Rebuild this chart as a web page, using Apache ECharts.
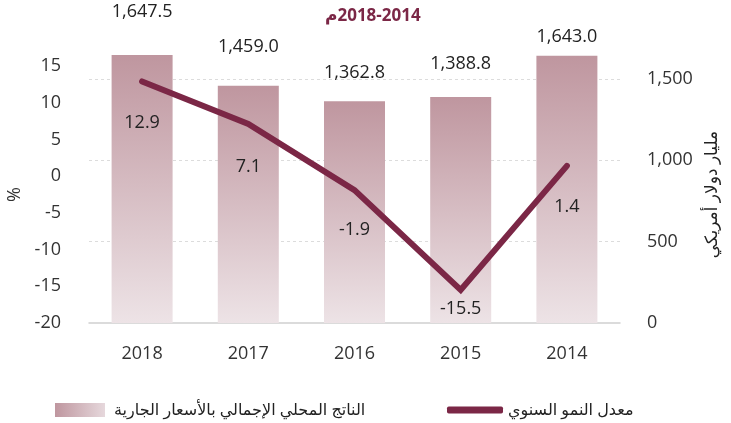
<!DOCTYPE html>
<html>
<head>
<meta charset="utf-8">
<script src="https://cdn.jsdelivr.net/npm/echarts@6/dist/echarts.min.js"></script>
<style>html,body{margin:0;padding:0;background:#fff}#c{width:731px;height:423px}</style>
</head>
<body>
<div id="c"></div>
<script>
const titleText = 'م\u200E2018-2014';
const categories = ['2018', '2017', '2016', '2015', '2014'];
const gdpValues = [1647.5, 1459.0, 1362.8, 1388.8, 1643.0];
const growthValues = [12.9, 7.1, -1.9, -15.5, 1.4];
const gdpName = 'الناتج المحلي الإجمالي بالأسعار الجارية';
const growthName = 'معدل النمو السنوي';
const leftAxisName = '%';
const rightAxisName = 'مليار دولار أمريكي';

// label placement (style only)
const barLabelDist = [34, 30, 19, 24, 10];
const lineLabelShift = [4, 2, 3, 1, 4];
const lineLabelDist = [28, 32, 28, 9, 28];

const FONT = '"Open Sans", "DejaVu Sans", sans-serif';
const MAROON = '#7b2746';

const chart = echarts.init(document.getElementById('c'));
chart.setOption({
  animation: false,
  title: {
    text: titleText, left: 320, top: 3,
    textStyle: { color: MAROON, fontSize: 17, fontWeight: 'bold', fontFamily: FONT }
  },
  legend: [
    {
      data: [{ name: gdpName, itemStyle: { color: new echarts.graphic.LinearGradient(0, 0, 1, 0, [{offset: 0, color: '#bf969f'}, {offset: 1, color: '#e6d8dc'}]) } }],
      left: 50, top: 397, itemWidth: 50, itemHeight: 14, icon: 'rect', itemGap: 10,
      textStyle: { fontSize: 16, color: '#222', fontFamily: FONT, padding: [0, 0, 0, 4] }
    },
    {
      data: [{ name: growthName, icon: 'roundRect' }],
      left: 442, top: 397, itemWidth: 56, itemHeight: 7,
      textStyle: { fontSize: 16, color: '#222', fontFamily: FONT }
    }
  ],
  grid: { left: 89, right: 111, top: 66, bottom: 100, containLabel: false, outerBoundsMode: 'none' },
  xAxis: {
    type: 'category', data: categories,
    axisLine: { onZero: false, lineStyle: { color: '#d0d0d0', width: 1.5 } },
    axisTick: { show: false },
    axisLabel: { fontSize: 18, color: '#333', margin: 22, fontFamily: FONT }
  },
  yAxis: [
    {
      type: 'value', min: -20, max: 15, interval: 5, position: 'left',
      name: leftAxisName, nameLocation: 'middle', nameRotate: 90, nameGap: 64,
      nameTextStyle: { fontSize: 18, color: '#333', fontFamily: FONT },
      axisLine: { show: false }, axisTick: { show: false }, splitLine: { show: false },
      axisLabel: { fontSize: 18, color: '#333', margin: 28, fontFamily: FONT }
    },
    {
      type: 'value', min: 0, max: 1580, interval: 500, position: 'right',
      name: rightAxisName, nameLocation: 'middle', nameRotate: 90, nameGap: 77,
      nameTextStyle: { fontSize: 17, color: '#222', fontFamily: FONT },
      axisLine: { show: false }, axisTick: { show: false },
      splitLine: { show: true, showMinLine: false, showMaxLine: false, lineStyle: { color: '#dcdcdc', type: [3, 3], width: 1 } },
      axisLabel: { fontSize: 18, color: '#333', margin: 27, fontFamily: FONT, showMaxLabel: false,
        formatter: v => v.toLocaleString('en-US') }
    }
  ],
  series: [
    {
      name: gdpName, type: 'bar', yAxisIndex: 1, barWidth: 61, clip: false,
      itemStyle: { color: new echarts.graphic.LinearGradient(0, 0, 0, 1, [{offset: 0, color: '#bf969f'}, {offset: 1, color: '#ede3e6'}]) },
      data: gdpValues.map((v, i) => ({
        value: v,
        label: { show: true, position: 'top', distance: barLabelDist[i],
          formatter: p => p.value.toLocaleString('en-US', {minimumFractionDigits: 1, maximumFractionDigits: 1}),
          fontSize: 18, color: '#222', fontFamily: FONT }
      }))
    },
    {
      name: growthName, type: 'line', yAxisIndex: 0, showSymbol: true, symbol: 'circle', symbolSize: 0, z: 5,
      itemStyle: { color: MAROON },
      lineStyle: { color: MAROON, width: 6, cap: 'round', join: 'miter' },
      data: growthValues.map((v, i) => ({
        value: v,
        label: { show: true, position: 'bottom', distance: lineLabelDist[i], offset: [0, lineLabelShift[i]],
          formatter: p => p.value.toFixed(1),
          fontSize: 18, color: '#222', fontFamily: FONT }
      }))
    }
  ]
});
</script>
</body>
</html>
